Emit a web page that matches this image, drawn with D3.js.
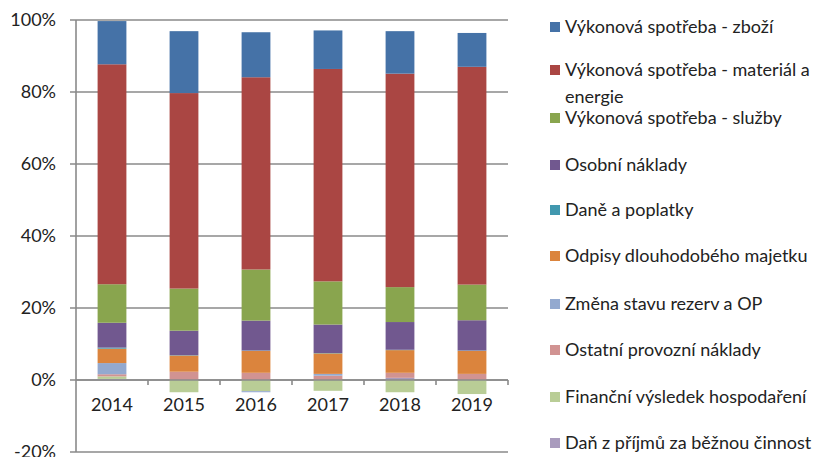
<!DOCTYPE html>
<html>
<head>
<meta charset="utf-8">
<script src="https://cdn.jsdelivr.net/npm/d3@7"></script>
<style>
  body { margin: 0; background: #fff; }
  text { font-family: Lato, "Liberation Sans", sans-serif; fill: #222; }
</style>
</head>
<body>
<svg id="chart" width="835" height="457"></svg>
<script>
// categories
let years = ["2014", "2015", "2016", "2017", "2018", "2019"];

// series, bottom of stack first (legend lists them top-down in reverse)
let danPrijmy   = [0.3, 0.0, 0.0, 0.0, 0.6, 0.0];
let financni    = [0.7, -3.4, -3.1, -3.0, -3.4, -3.9];
let ostatni     = [0.6, 2.3, 2.0, 1.2, 1.4, 1.7];
let zmenaRezerv = [3.1, 0.0, -0.3, 0.5, 0.0, 0.0];
let odpisy      = [4.0, 4.5, 6.1, 5.7, 6.3, 6.4];
let daneApopl   = [0.3, 0.1, 0.1, 0.1, 0.1, 0.1];
let osobni      = [6.9, 6.8, 8.3, 7.9, 7.7, 8.4];
let sluzby      = [10.7, 11.7, 14.2, 12.0, 9.7, 9.9];
let material    = [61.1, 54.3, 53.4, 59.0, 59.3, 60.5];
let zbozi       = [12.0, 17.2, 12.5, 10.7, 11.8, 9.4];

let seriesNames = [
  "Daň z příjmů za běžnou činnost",
  "Finanční výsledek hospodaření",
  "Ostatní provozní náklady",
  "Změna stavu rezerv a OP",
  "Odpisy dlouhodobého majetku",
  "Daně a poplatky",
  "Osobní náklady",
  "Výkonová spotřeba - služby",
  "Výkonová spotřeba - materiál a energie",
  "Výkonová spotřeba - zboží"
];
let seriesValues = [danPrijmy, financni, ostatni, zmenaRezerv, odpisy, daneApopl, osobni, sluzby, material, zbozi];
let colors = ["#a99bbd", "#b9cd96", "#d19392", "#93a9cf", "#db843d", "#4198af", "#71588f", "#89a54e", "#aa4643", "#4572a7"];

let yTicks = [-20, 0, 20, 40, 60, 80, 100];

let margin = {left: 76, right: 327, top: 20, bottom: 5},
    width = 835 - margin.left - margin.right,
    height = 457 - margin.top - margin.bottom;

// rows for d3.stack
let table = years.map((y, i) => {
  let row = {year: y};
  seriesNames.forEach((n, k) => row[n] = seriesValues[k][i]);
  return row;
});

let stack = d3.stack()
  .keys(seriesNames)
  .offset(d3.stackOffsetDiverging);
let layers = stack(table);

let x = d3.scaleBand()
  .domain(years)
  .range([0, width])
  .paddingInner(0.6)
  .paddingOuter(0.3);

let y = d3.scaleLinear()
  .domain([-20, 100])
  .range([height, 0]);

let svg = d3.select("#chart")
  .append("g")
    .attr("transform", "translate(" + margin.left + "," + margin.top + ")");

// gridlines
svg.selectAll(".grid")
  .data(yTicks)
.enter().append("line")
  .attr("class", "grid")
  .attr("x1", -6)
  .attr("x2", width)
  .attr("y1", d => y(d))
  .attr("y2", d => y(d))
  .attr("stroke", "#8a8a8a")
  .attr("stroke-width", 1.6);

// y labels
svg.selectAll(".y-label")
  .data(yTicks)
.enter().append("text")
  .attr("class", "y-label")
  .attr("x", -20)
  .attr("y", d => y(d))
  .attr("dy", "0.35em")
  .style("text-anchor", "end")
  .style("font-size", "18px")
  .text(d => d + "%");

// bars
svg.selectAll(".layer")
  .data(layers)
.enter().append("g")
  .attr("class", "layer")
  .attr("fill", (d, i) => colors[i])
.selectAll("rect")
  .data(d => d)
.enter().append("rect")
  .attr("x", d => x(d.data.year))
  .attr("width", x.bandwidth())
  .attr("y", d => y(Math.max(d[0], d[1])))
  .attr("height", d => Math.abs(y(d[0]) - y(d[1])));

// y axis line
svg.append("line")
  .attr("x1", 0).attr("x2", 0)
  .attr("y1", 0).attr("y2", height)
  .attr("stroke", "#8a8a8a")
  .attr("stroke-width", 1.6);

// x axis at zero with ticks between categories
svg.append("line")
  .attr("x1", 0).attr("x2", width)
  .attr("y1", y(0)).attr("y2", y(0))
  .attr("stroke", "#8a8a8a")
  .attr("stroke-width", 1.6);

let step = x.step();
svg.selectAll(".x-tick")
  .data(years)
.enter().append("line")
  .attr("class", "x-tick")
  .attr("x1", (d, i) => (i + 1) * step)
  .attr("x2", (d, i) => (i + 1) * step)
  .attr("y1", y(0))
  .attr("y2", y(0) + 5)
  .attr("stroke", "#8a8a8a")
  .attr("stroke-width", 1.6);

svg.selectAll(".x-label")
  .data(years)
.enter().append("text")
  .attr("class", "x-label")
  .attr("x", d => x(d) + x.bandwidth() / 2)
  .attr("y", y(0) + 31)
  .style("text-anchor", "middle")
  .style("font-size", "18px")
  .text(d => d);

// legend, reverse order like Excel
let legendRows = [
  {k: 9, y: 27},
  {k: 8, y: 70, wrap: ["Výkonová spotřeba - materiál a", "energie"]},
  {k: 7, y: 118},
  {k: 6, y: 165},
  {k: 5, y: 210},
  {k: 4, y: 256},
  {k: 3, y: 304},
  {k: 2, y: 350},
  {k: 1, y: 397},
  {k: 0, y: 443}
];

let legend = d3.select("#chart").append("g")
  .attr("class", "legend");

let item = legend.selectAll(".item")
  .data(legendRows)
.enter().append("g")
  .attr("class", "item")
  .attr("transform", d => "translate(550," + d.y + ")");

item.append("rect")
  .attr("x", 0)
  .attr("y", -5)
  .attr("width", 10)
  .attr("height", 10)
  .attr("fill", d => colors[d.k]);

item.append("text")
  .attr("x", 15)
  .style("font-size", "18px")
  .each(function(d) {
    let lines = d.wrap || [seriesNames[d.k]];
    d3.select(this).selectAll("tspan")
      .data(lines)
    .enter().append("tspan")
      .attr("x", 15)
      .attr("dy", (l, i) => i == 0 ? "0.35em" : "27px")
      .text(l => l);
  });
</script>
</body>
</html>
